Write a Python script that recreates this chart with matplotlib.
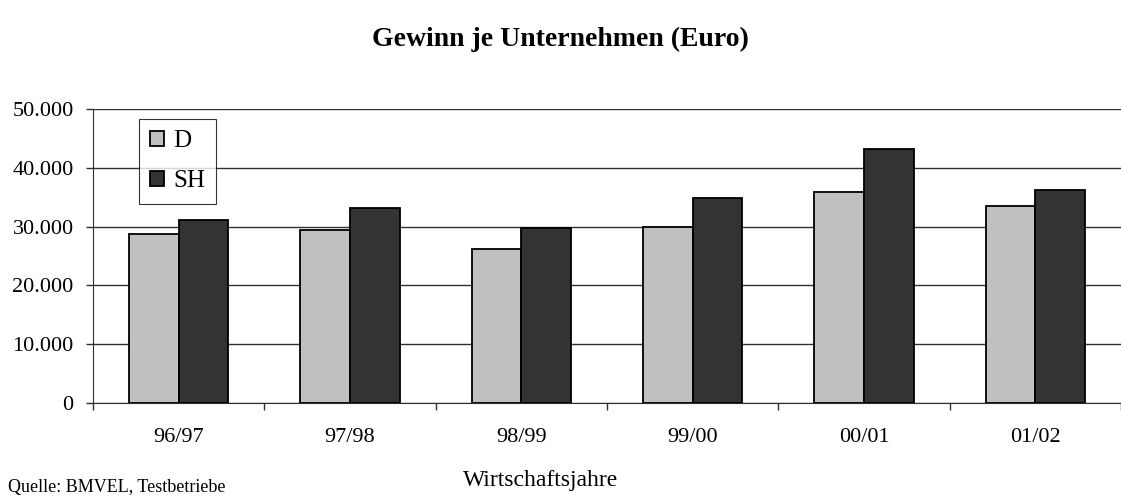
import matplotlib.pyplot as plt
import numpy as np
from matplotlib.ticker import FuncFormatter, FixedLocator

# Gewinn je Unternehmen (Euro)
jahre = ['96/97', '97/98', '98/99', '99/00', '00/01', '01/02']
gewinn_d = [28700, 29400, 26250, 30000, 35900, 33500]
gewinn_sh = [31100, 33200, 29800, 34900, 43200, 36300]

plt.rcParams['font.family'] = ['Liberation Serif', 'DejaVu Serif']

fig = plt.figure(figsize=(11.21, 4.96), dpi=100)
ax = fig.add_axes([0.083, 0.1875, 0.917, 0.5925])

x = np.arange(len(jahre))
w = 0.29
ax.bar(x - w / 2, gewinn_d, w, color='#C0C0C0', edgecolor='black', linewidth=1.3, label='D', zorder=3)
ax.bar(x + w / 2, gewinn_sh, w, color='#333333', edgecolor='black', linewidth=1.3, label='SH', zorder=3)

ax.set_xlim(-0.5, len(jahre) - 0.5)
ax.set_ylim(0, 50000)
ax.set_yticks(np.arange(0, 50001, 10000))
ax.yaxis.set_major_formatter(FuncFormatter(lambda v, p: f'{int(v):,}'.replace(',', '.')))
ax.yaxis.grid(True, color='#303030', linewidth=1, zorder=0)

# category boundaries carry the ticks, labels sit at the centres
ax.xaxis.set_major_locator(FixedLocator(np.arange(-0.5, len(jahre), 1.0)))
ax.xaxis.set_minor_locator(FixedLocator(x))
ax.set_xticklabels([], minor=False)
ax.set_xticklabels(jahre, minor=True)
ax.tick_params(axis='x', which='major', length=5, width=1, direction='out', color='#303030')
ax.tick_params(axis='x', which='minor', length=0, pad=18, labelsize=16)
ax.tick_params(axis='y', length=5, width=1, direction='out', pad=9, labelsize=16, color='#303030')

for s in ['top', 'right']:
    ax.spines[s].set_visible(False)
ax.spines['left'].set_color('#303030')
ax.spines['bottom'].set_color('#303030')
ax.axhline(50000, color='#888888', linewidth=1.5, zorder=1)

leg = ax.legend(loc='upper left', bbox_to_anchor=(0.0447, 0.966), fontsize=18, frameon=True,
                fancybox=False, edgecolor='black', handlelength=0.56, handleheight=0.56,
                handletextpad=0.36, labelspacing=0.72, borderpad=0.45, borderaxespad=0)
leg.get_frame().set_linewidth(0.8)

fig.text(0.5, 0.92, 'Gewinn je Unternehmen (Euro)', ha='center', va='center',
         fontsize=20, fontweight='bold')
fig.text(0.482, 0.032, 'Wirtschaftsjahre', ha='center', va='center', fontsize=17)
fig.text(0.007, 0.0, 'Quelle: BMVEL, Testbetriebe', ha='left', va='bottom', fontsize=13)

fig.savefig('out.png', dpi=100)
